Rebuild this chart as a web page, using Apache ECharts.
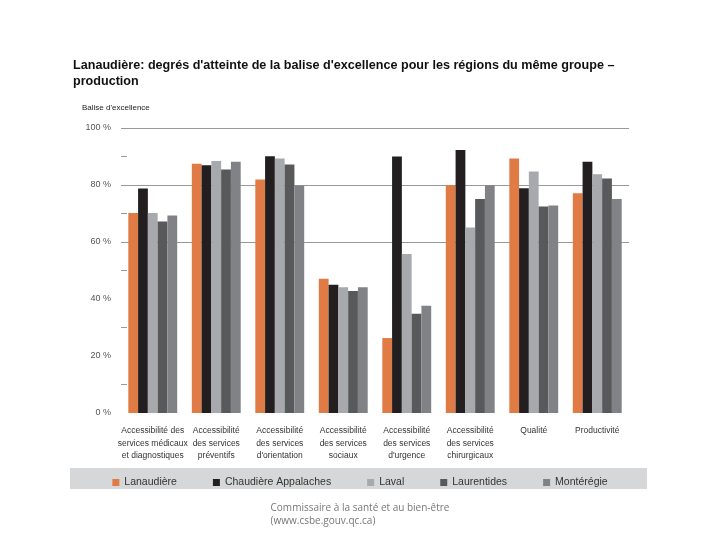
<!DOCTYPE html>
<html><head><meta charset="utf-8">
<script src="https://cdn.jsdelivr.net/npm/echarts@6/dist/echarts.min.js"></script>
<style>html,body{margin:0;padding:0;background:#fff}#c{width:720px;height:540px}</style>
</head><body><div id="c"></div>
<script>
const categories = [
  "Accessibilité des\nservices médicaux\net diagnostiques",
  "Accessibilité\ndes services\npréventifs",
  "Accessibilité\ndes services\nd'orientation",
  "Accessibilité\ndes services\nsociaux",
  "Accessibilité\ndes services\nd'urgence",
  "Accessibilité\ndes services\nchirurgicaux",
  "Qualité",
  "Productivité"
];
const seriesNames = ["Lanaudière", "Chaudière Appalaches", "Laval", "Laurentides", "Montérégie"];
const lanaudiere = [70.2, 87.5, 81.9, 47.1, 26.3, 79.9, 89.3, 77.1];
const chaudiere  = [78.8, 86.9, 90.1, 45.0, 90.0, 92.3, 78.9, 88.2];
const laval      = [70.2, 88.4, 89.3, 44.1, 55.8, 65.1, 84.7, 83.8];
const laurentides= [67.2, 85.4, 87.2, 42.8, 34.8, 75.1, 72.5, 82.3];
const monteregie = [69.3, 88.2, 79.8, 44.1, 37.6, 79.9, 72.8, 75.1];
const yTicks = [0, 20, 40, 60, 80, 100];

const colors = ["#E07B45", "#231F20", "#A7A9AC", "#58595B", "#808285"];
const values = [lanaudiere, chaudiere, laval, laurentides, monteregie];

const chart = echarts.init(document.getElementById('c'), null, {renderer: 'canvas'});
chart.setOption({
  animation: false,
  backgroundColor: '#fff',
  textStyle: {fontFamily: 'Liberation Sans, Arial, sans-serif'},
  title: {
    text: "Lanaudière: degrés d'atteinte de la balise d'excellence pour les régions du même groupe –\nproduction",
    left: 68, top: 53,
    textStyle: {fontSize: 12.6, fontWeight: 'bold', color: '#111', lineHeight: 16, fontFamily: 'Liberation Sans, Arial, sans-serif'}
  },
  graphic: [
    {type: 'rect', left: 70, top: 468, shape: {width: 577, height: 21}, style: {fill: '#D6D7D8'}, z: -1},
    {type: 'text', left: 82, top: 104, style: {text: "Balise d'excellence", fontSize: 8, fill: '#222', fontFamily: 'Liberation Sans, Arial, sans-serif'}},
    {type: 'text', left: 'center', top: 502, style: {text: "Commissaire à la santé et au bien-être\n(www.csbe.gouv.qc.ca)", fontSize: 10, lineHeight: 12.5, fill: '#777', align: 'center', fontFamily: 'Open Sans, sans-serif'}}
  ],
  legend: {
    data: seriesNames,
    top: 472, left: 'center',
    itemWidth: 7, itemHeight: 7, itemGap: 36,
    icon: 'rect',
    textStyle: {fontSize: 10.5, color: '#333'}
  },
  grid: {left: 121, right: 91, top: 128, bottom: 127},
  xAxis: {
    type: 'category',
    data: categories,
    axisLine: {show: false},
    axisTick: {show: false},
    axisLabel: {interval: 0, fontSize: 8.5, lineHeight: 12.3, color: '#333', margin: 12}
  },
  yAxis: {
    type: 'value', min: 0, max: 100, interval: 20,
    axisLine: {show: false},
    axisTick: {show: false},
    minorTick: {show: true, splitNumber: 2, length: -6, lineStyle: {color: '#999'}},
    axisLabel: {formatter: v => yTicks.includes(v) ? v + ' %' : '', fontSize: 9, color: '#555', margin: 10},
    splitLine: {show: true, lineStyle: {color: ['transparent', 'transparent', 'transparent', '#999', '#999', '#999'], width: 1}}
  },
  series: seriesNames.map((n, i) => ({
    name: n, type: 'bar', data: values[i],
    itemStyle: {color: colors[i]},
    barGap: '0%', barCategoryGap: '23%'
  }))
});
</script></body></html>
